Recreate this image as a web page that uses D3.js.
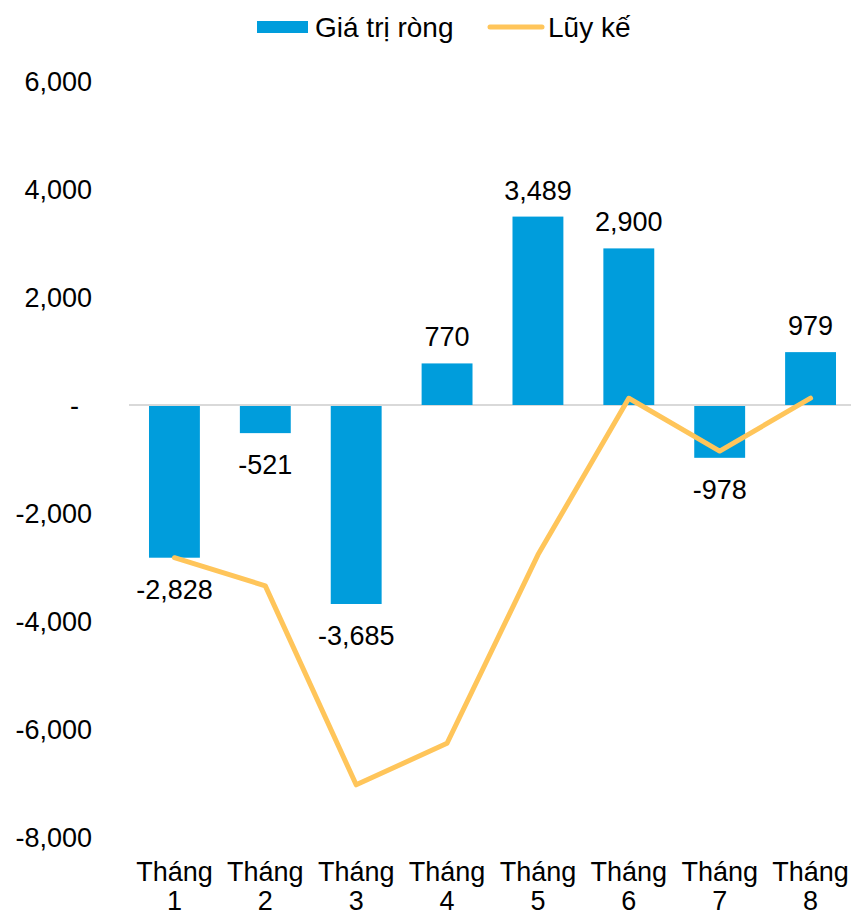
<!DOCTYPE html>
<html>
<head>
<meta charset="utf-8">
<script src="https://cdn.jsdelivr.net/npm/d3@7"></script>
<style>
  body { margin: 0; background: #fff; }
  text { font-family: "Liberation Sans", Arial, sans-serif; fill: #000; }
</style>
</head>
<body>
<svg id="chart" width="851" height="915"></svg>
<script>
// du lieu
let months = ["Tháng 1", "Tháng 2", "Tháng 3", "Tháng 4", "Tháng 5", "Tháng 6", "Tháng 7", "Tháng 8"],
    netValues = [-2828, -521, -3685, 770, 3489, 2900, -978, 979],
    cumValues = [-2828, -3349, -7034, -6264, -2775, 125, -853, 126],
    yTicks = [-8000, -6000, -4000, -2000, 0, 2000, 4000, 6000];

let svg = d3.select("#chart"),
    barColor = "#009DDC",
    lineColor = "#FFC55A",
    font_size = "27px",
    margin = {top: 81, right: -5, bottom: 78, left: 129},
    width = +svg.attr("width") - margin.left - margin.right,
    height = +svg.attr("height") - margin.top - margin.bottom;

let g = svg.append("g").attr("transform", "translate(" + margin.left + "," + margin.top + ")");

let x = d3.scaleBand().domain(months).range([0, width]).paddingInner(0.44).paddingOuter(0.22);
let y = d3.scaleLinear().domain([-8000, 6000]).range([height, 0]);

// d3 dung dau tru unicode, doi lai thanh "-"
let fmt = d => d3.format(",")(d).replace("−", "-");

// truc y
g.selectAll(".ytick")
  .data(yTicks)
  .enter().append("text")
  .attr("class", "ytick")
  .attr("x", d => d == 0 ? -50 : -37)
  .attr("y", d => y(d))
  .attr("dy", "0.36em")
  .attr("text-anchor", "end")
  .style("font-size", font_size)
  .text(d => d == 0 ? "-" : fmt(d));

// duong 0
g.append("line")
  .attr("x1", 0).attr("x2", width)
  .attr("y1", y(0)).attr("y2", y(0))
  .attr("stroke", "#d9d9d9").attr("stroke-width", 2);

// cot
g.selectAll(".bar")
  .data(netValues)
  .enter().append("rect")
  .attr("class", "bar")
  .attr("x", (d, i) => x(months[i]))
  .attr("width", x.bandwidth())
  .attr("y", d => d >= 0 ? y(d) : y(0) + 1)
  .attr("height", d => Math.abs(y(d) - y(0)) - (d < 0 ? 1 : 0))
  .attr("fill", barColor);

// nhan cot
g.selectAll(".vlabel")
  .data(netValues)
  .enter().append("text")
  .attr("class", "vlabel")
  .attr("x", (d, i) => x(months[i]) + x.bandwidth() / 2)
  .attr("y", d => d >= 0 ? y(d) - 17 : y(d) + 41)
  .attr("text-anchor", "middle")
  .style("font-size", font_size)
  .text(d => fmt(d));

// duong luy ke
let line = d3.line()
  .x((d, i) => x(months[i]) + x.bandwidth() / 2)
  .y(d => y(d));

g.append("path")
  .datum(cumValues)
  .attr("d", line)
  .attr("fill", "none")
  .attr("stroke", lineColor)
  .attr("stroke-width", 5)
  .attr("stroke-linecap", "round")
  .attr("stroke-linejoin", "round");

// nhan truc x
let cats = g.selectAll(".cat")
  .data(months)
  .enter().append("text")
  .attr("class", "cat")
  .attr("text-anchor", "middle")
  .style("font-size", font_size)
  .attr("transform", d => "translate(" + (x(d) + x.bandwidth() / 2) + "," + (height + 44) + ")");

cats.append("tspan").attr("x", 0).attr("y", 0).text(d => d.split(" ")[0]);
cats.append("tspan").attr("x", 0).attr("y", 29).text(d => d.split(" ")[1]);

// chu thich
let legend = svg.append("g");
legend.append("rect")
  .attr("x", 257).attr("y", 21).attr("width", 51).attr("height", 12)
  .attr("fill", barColor);
legend.append("text")
  .attr("x", 315).attr("y", 37)
  .style("font-size", "28px")
  .text("Giá trị ròng");
legend.append("line")
  .attr("x1", 490).attr("x2", 542).attr("y1", 27).attr("y2", 27)
  .attr("stroke", lineColor).attr("stroke-width", 5).attr("stroke-linecap", "round");
legend.append("text")
  .attr("x", 548).attr("y", 37)
  .style("font-size", "28px")
  .text("Lũy kế");
</script>
</body>
</html>
